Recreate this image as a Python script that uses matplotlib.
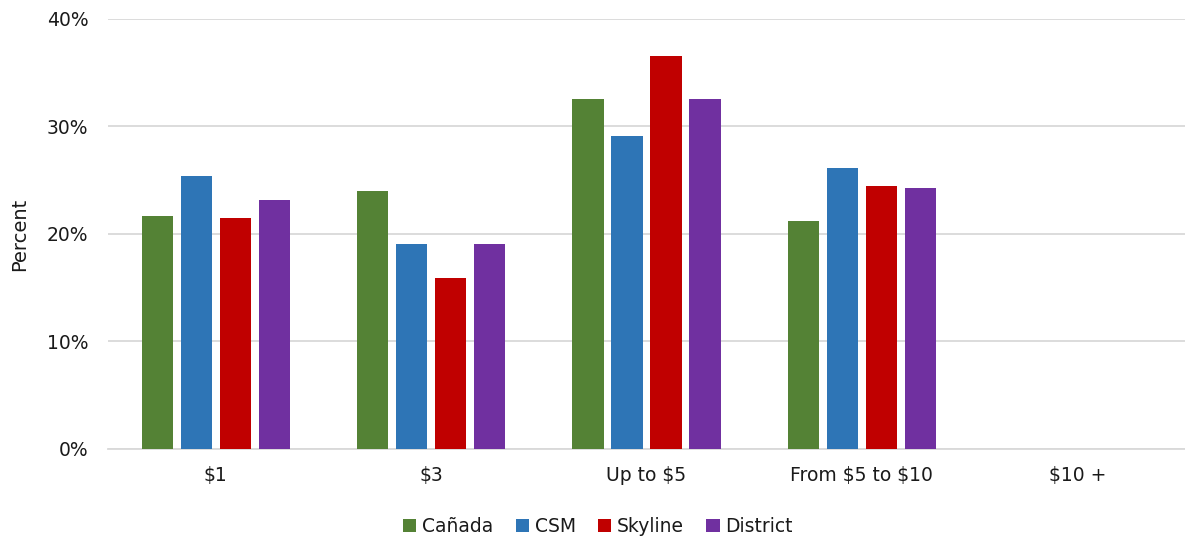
import numpy as np
import matplotlib
matplotlib.use("Agg")
import matplotlib.pyplot as plt
from matplotlib.ticker import PercentFormatter

categories = ["$1", "$3", "Up to $5", "From $5 to $10", "$10 +"]
series_names = ["Cañada", "CSM", "Skyline", "District"]
canada = [21.7, 24.0, 32.6, 21.2, 0]
csm = [25.4, 19.1, 29.1, 26.1, 0]
skyline = [21.5, 15.9, 36.6, 24.5, 0]
district = [23.2, 19.1, 32.6, 24.3, 0]
colors = ["#548235", "#2E75B6", "#C00000", "#7030A0"]

plt.rcParams["font.family"] = ["DejaVu Sans"]
plt.rcParams["text.color"] = "#1a1a1a"
plt.rcParams["text.parse_math"] = False

fig = plt.figure(figsize=(11.85, 5.42), dpi=100)
ax = fig.add_axes([0.0911, 0.1716, 0.9089, 0.7934])

x = np.arange(len(categories))
step = 0.181
width = 0.145
for i, (name, vals) in enumerate(zip(series_names, [canada, csm, skyline, district])):
    ax.bar(x + (i - 1.5) * step, vals, width, color=colors[i], label=name, zorder=3)

ax.set_xlim(-0.5, len(categories) - 0.5)
ax.set_ylim(0, 40)
ax.set_yticks([0, 10, 20, 30, 40])
ax.yaxis.set_major_formatter(PercentFormatter(decimals=0))
ax.set_xticks(x)
ax.set_xticklabels(categories)
ax.tick_params(axis="both", length=0, labelsize=13.5, colors="#1a1a1a")
ax.tick_params(axis="x", pad=12)
ax.tick_params(axis="y", pad=14)
ax.grid(axis="y", color="#D9D9D9", linewidth=1.3, zorder=0)
for s in ["top", "right", "left"]:
    ax.spines[s].set_visible(False)
ax.spines["bottom"].set_color("#D9D9D9")
ax.spines["bottom"].set_linewidth(1.3)
ax.set_ylabel("Percent", fontsize=14, color="#1a1a1a")
ax.yaxis.set_label_coords(-0.073, 0.5)

ax.legend(loc="upper center", bbox_to_anchor=(0.455, -0.12), ncol=4,
          frameon=False, fontsize=13.5, handlelength=0.7, handleheight=0.7,
          handletextpad=0.3, columnspacing=1.2)

fig.savefig("out.png", dpi=100)
